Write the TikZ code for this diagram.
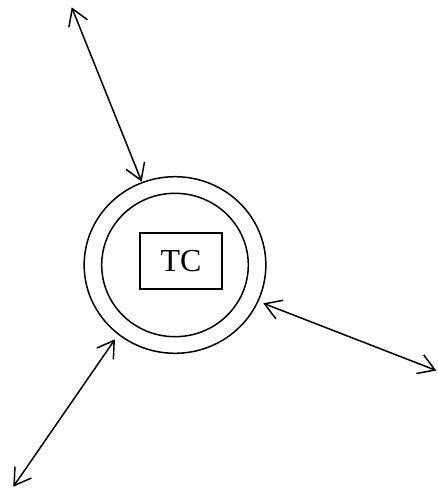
\documentclass[tikz,border=0pt]{standalone}
\usepackage{fontspec}
\setmainfont{Liberation Serif}
\usetikzlibrary{arrows.meta,shapes.geometric}
\begin{document}
\begin{tikzpicture}[x=1pt,y=-1pt,
  ring/.style={draw,ellipse,line width=1.5pt,inner sep=0pt},
  tcbox/.style={draw,rectangle,line width=1.4pt,inner sep=0pt,minimum width=81.7pt,minimum height=55.7pt,font=\fontsize{32}{32}\selectfont},
  link/.style={line width=1.5pt,{Straight Barb[length=16pt,width=20pt]}-{Straight Barb[length=16pt,width=20pt]}}]
\useasboundingbox (0,0) rectangle (437,498);
\node[ring,minimum width=181.7pt,minimum height=176.6pt] (outer) at (175,265) {};
\node[ring,minimum width=146.6pt,minimum height=143.4pt] (inner) at (175,265) {};
\node[tcbox] (tc) at (181,261) {TC};
\coordinate (a1) at (71.7,7.3);
\coordinate (a2) at (141.7,181.7);
\coordinate (b1) at (263.3,303.3);
\coordinate (b2) at (436.3,370.5);
\coordinate (c1) at (115,339.3);
\coordinate (c2) at (13.3,486.7);
\draw[link] (a1) -- (a2);
\draw[link] (b1) -- (b2);
\draw[link] (c1) -- (c2);
\end{tikzpicture}
\end{document}
